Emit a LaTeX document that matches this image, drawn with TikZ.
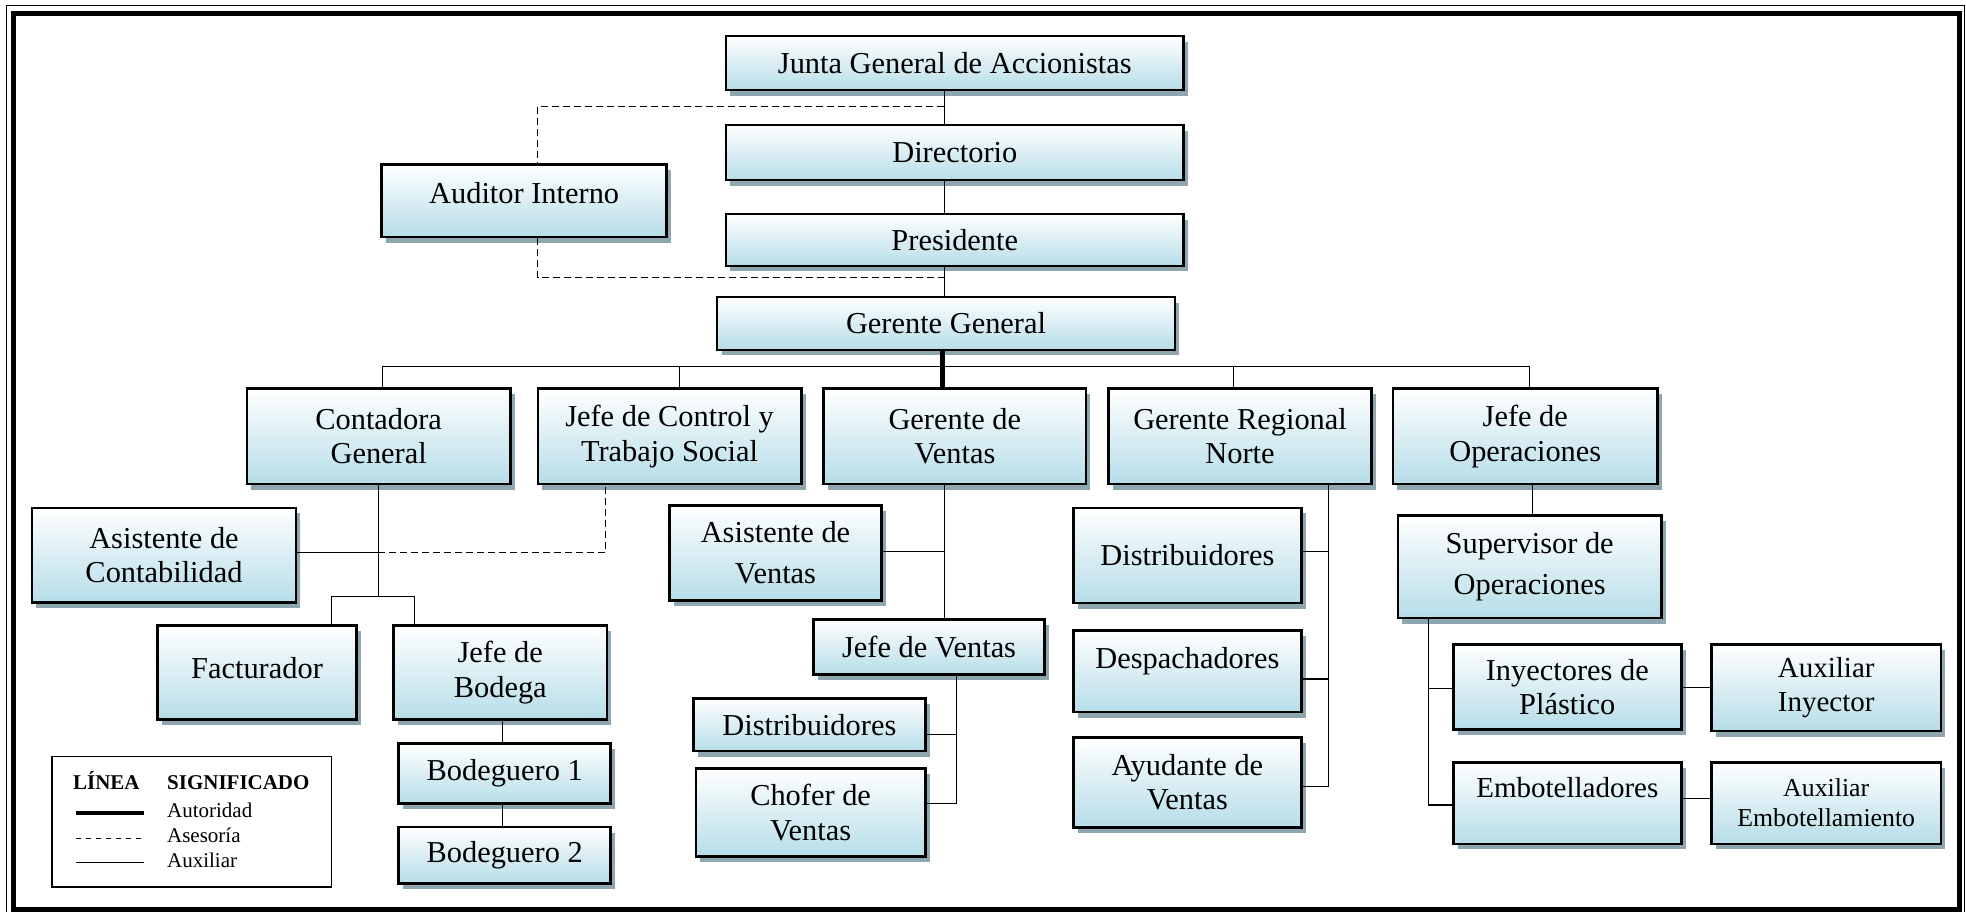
\documentclass[tikz,border=0pt]{standalone}
\usepackage{fontspec}
\setmainfont{Liberation Serif}
\usetikzlibrary{shadows}
\definecolor{boxblue}{RGB}{182,221,232}
\definecolor{shadowc}{RGB}{141,166,176}
% #1 extra style, #2 name, #3 x1, #4 y1, #5 x2, #6 y2, #7 text
\newcommand{\orgbox}[7][]{%
  \node[orgbox,#1,minimum width={(#5-#3)*0.6269pt},minimum height={(#6-#4)*0.6269pt}]
    (#2) at ({(#3+#5)/2},{(#4+#6)/2}) {#7};}
\newcommand{\liftup}[2]{\raisebox{#1}[\height][\depth]{#2}}
\begin{document}
\begin{tikzpicture}[x=0.6269pt,y=-0.6269pt,
  orgbox/.style={draw,line width=1.3pt,top color=white,bottom color=boxblue,
    drop shadow={shadow xshift=2.2pt,shadow yshift=-2.8pt,fill=shadowc,opacity=1},
    align=center,inner sep=0pt,font=\fontsize{15.2}{17.2}\selectfont},
  smallfont/.style={font=\fontsize{14.5}{17}\selectfont},
  tinyfont/.style={font=\fontsize{12.9}{15}\selectfont},
  aux/.style={line width=0.55pt},
  asesor/.style={line width=0.55pt,dash pattern=on 3.5pt off 2pt},
  autor/.style={line width=2.7pt},
  legtxt/.style={inner sep=0pt,anchor=base west,font=\fontsize{10.5}{12}\selectfont},
  legbox/.style={draw,line width=0.8pt,inner sep=0pt}]
\useasboundingbox (0,0) rectangle (1568,727);
% page border
\draw[line width=0.5pt] (5.5,4.5) rectangle (1566.5,729);
\draw[line width=2.5pt] (11,10.5) rectangle (1563,725.5);

% boxes
\orgbox{junta}{579}{28.7}{944}{71.8}{Junta General de Accionistas}
\orgbox{dir}{579}{99.7}{944}{143.6}{Directorio}
\orgbox{pres}{579}{170.6}{944}{212}{Presidente}
\orgbox{gg}{572}{237}{937}{279}{Gerente General}
\orgbox{aud}{304.5}{131}{531.6}{189}{\liftup{4pt}{Auditor Interno}}
\orgbox{cont}{197}{310}{407}{386}{Contadora\\General}
\orgbox{jcont}{429}{310}{639}{386}{Jefe de Control y\\Trabajo Social}
\orgbox{gv}{657}{310}{866}{386}{Gerente de\\Ventas}
\orgbox{grn}{884}{310}{1094}{386}{Gerente Regional\\Norte}
\orgbox{jops}{1111}{310}{1322}{386}{Jefe de\\Operaciones}
\orgbox{asiscont}{25.6}{405}{236}{480.5}{Asistente de\\Contabilidad}
\orgbox{fact}{125.6}{499}{284.4}{574}{\liftup{2.4pt}{Facturador}}
\orgbox{jbod}{314}{499}{484}{574}{Jefe de\\Bodega}
\orgbox{bod1}{318}{593}{487}{641}{Bodeguero 1}
\orgbox{bod2}{318}{659.5}{487}{704.5}{Bodeguero 2}
\orgbox{asisv}{534}{403}{703}{479}{Asistente de\\[3.3pt]Ventas}
\orgbox{jv}{649}{494}{833}{538}{Jefe de Ventas}
\orgbox{distv}{553}{557}{738}{599}{Distribuidores}
\orgbox{chof}{555}{613}{738}{683}{Chofer de\\Ventas}
\orgbox{distn}{856}{405}{1038}{481}{Distribuidores}
\orgbox{desp}{856}{503}{1038}{568}{\liftup{5.1pt}{Despachadores}}
\orgbox{ayud}{856}{588}{1038}{660}{Ayudante de\\Ventas}
\orgbox{sup}{1115}{411}{1325}{493}{Supervisor de\\[3.3pt]Operaciones}
\orgbox{iny}{1159}{514}{1341}{582}{Inyectores de\\Plástico}
\orgbox[smallfont]{auxi}{1365}{514}{1548}{583}{Auxiliar\\Inyector}
\orgbox[smallfont]{emb}{1159}{608}{1341}{673}{\liftup{7.6pt}{Embotelladores}}
\orgbox[tinyfont]{auxe}{1365}{608}{1548}{673}{Auxiliar\\Embotellamiento}

% helper coordinates
\coordinate (cx) at (753,0);
\coordinate (audx) at (429,0);
\coordinate (aud1) at (753,85);
\coordinate (aud2) at (753,221.5);
\coordinate (thx) at (751.7,0);
\coordinate (b1) at (305,292.3);
\coordinate (b2) at (542,292.3);
\coordinate (b3) at (983.5,292.3);
\coordinate (b4) at (1220,292.3);
\coordinate (c1) at (301.6,441);
\coordinate (c2) at (301.6,476);
\coordinate (f1) at (264.6,476);
\coordinate (f2) at (330.7,476);
\coordinate (jc1) at (483,441);
\coordinate (xb) at (401,0);
\coordinate (v1) at (753,439.5);
\coordinate (v2) at (763,586);
\coordinate (v3) at (763,641);
\coordinate (n1) at (1059.7,440);
\coordinate (n2) at (1059.7,541.5);
\coordinate (n3) at (1059.7,627);
\coordinate (ox) at (1222,0);
\coordinate (s1) at (1139,549);
\coordinate (s2) at (1139,642);
\coordinate (i1) at (0,548);
\coordinate (e1) at (0,637);

% top chain
\draw[aux] (junta.south -| cx) -- (dir.north -| cx);
\draw[aux] (dir.south -| cx) -- (pres.north -| cx);
\draw[aux] (pres.south -| cx) -- (gg.north -| cx);
\draw[asesor] (aud1) -| (aud.north -| audx);
\draw[asesor] (aud.south -| audx) |- (aud2);

% bus
\draw[aux] (cont.north -| b1) -- (b1) -- (b4) -- (jops.north -| b4);
\draw[aux] (b2) -- (jcont.north -| b2);
\draw[aux] (b3) -- (grn.north -| b3);
\draw[autor] (gg.south -| thx) -- (gv.north -| thx);

% contadora
\draw[aux] (cont.south -| c1) -- (c2);
\draw[aux] (asiscont.east |- c1) -- (c1);
\draw[aux] (fact.north -| f1) -- (f1) -- (f2) -- (jbod.north -| f2);
\draw[asesor] (c1) -- (jc1) -- (jcont.south -| jc1);
\draw[aux] (jbod.south -| xb) -- (bod1.north -| xb);
\draw[aux] (bod1.south -| xb) -- (bod2.north -| xb);

% ventas
\draw[aux] (gv.south -| v1) -- (jv.north -| v1);
\draw[aux] (asisv.east |- v1) -- (v1);
\draw[aux] (jv.south -| v3) -- (v3) -- (chof.east |- v3);
\draw[aux] (distv.east |- v2) -- (v2);

% regional norte
\draw[aux] (grn.south -| n3) -- (n3) -- (ayud.east |- n3);
\draw[aux] (distn.east |- n1) -- (n1);
\draw[aux] (desp.east |- n2) -- (n2);

% operaciones
\draw[aux] (jops.south -| ox) -- (sup.north -| ox);
\draw[aux] (sup.south -| s2) -- (s2) -- (emb.west |- s2);
\draw[aux] (s1) -- (iny.west |- s1);
\draw[aux] (iny.east |- i1) -- (auxi.west |- i1);
\draw[aux] (emb.east |- e1) -- (auxe.west |- e1);

% legend
\node[legbox,minimum width={(264.5-41.3)*0.6269pt},minimum height={(707.6-603.5)*0.6269pt}] (leg) at (152.9,655.55) {};
\node[legtxt,font=\fontsize{10.5}{12}\selectfont\bfseries] (lt1) at (58,630) {LÍNEA};
\node[legtxt,font=\fontsize{10.5}{12}\selectfont\bfseries] (lt2) at (133,630) {SIGNIFICADO};
\node[legtxt] (la) at (133,652) {Autoridad};
\node[legtxt] (las) at (133,672) {Asesoría};
\node[legtxt] (lau) at (133,691.6) {Auxiliar};
\draw[line width=2pt] (60.5,648.6) -- (114.6,648.6);
\draw[line width=0.55pt,dash pattern=on 2.8pt off 2.2pt] (60.5,668.5) -- (114.6,668.5);
\draw[line width=0.55pt] (60.5,688) -- (114.6,688);
\end{tikzpicture}
\end{document}
